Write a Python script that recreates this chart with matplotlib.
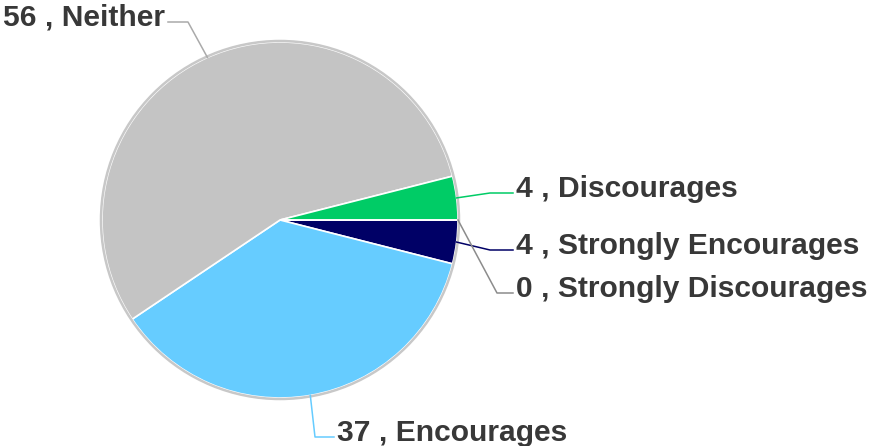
"""Pie chart of attitude responses with elbow leader labels."""

import numpy as np
import matplotlib

matplotlib.use("Agg")
import matplotlib.pyplot as plt
from matplotlib.patches import Circle

# data, clockwise from 3 o'clock
labels = ["Strongly Encourages", "Encourages", "Neither", "Discourages", "Strongly Discourages"]
counts = [4, 37, 56, 4, 0]
colors = ["#000066", "#66ccff", "#c4c4c4", "#00cc66", "#999999"]
line_colors = ["#000066", "#66ccff", "#aaaaaa", "#00cc66", "#8c8c8c"]

W, H = 875, 446
CX, CY, R = 280, 220, 178  # pie centre / radius in pixels (from top-left)

# leader layout: elbow and end of each leader line, pixels from top-left
leader = {
    "Strongly Encourages": ((490, 250), (513, 250), "left"),
    "Encourages": ((315, 437), (334, 437), "left"),
    "Neither": ((188, 22), (168, 22), "right"),
    "Discourages": ((490, 193), (513, 193), "left"),
    "Strongly Discourages": ((497, 293), (513, 293), "left"),
}


def px(x, y):
    return x, H - y


fig = plt.figure(figsize=(W / 100, H / 100), dpi=100)
ax = fig.add_axes([0, 0, 1, 1])
wedges, _ = ax.pie(
    counts, colors=colors, startangle=0, counterclock=False,
    radius=R, center=px(CX, CY),
    wedgeprops=dict(edgecolor="white", linewidth=1.2),
)
ax.add_patch(Circle(px(CX, CY), R + 1, fill=False, edgecolor="#c8c8c8", lw=1.8, zorder=3))

for wedge, label, count, lc in zip(wedges, labels, counts, line_colors):
    mid = np.deg2rad((wedge.theta1 + wedge.theta2) / 2)
    ex, ey = CX + R * np.cos(mid), CY - R * np.sin(mid)
    (bx, by), (tx, ty), side = leader[label]
    xs, ys = zip(*[px(ex, ey), px(bx, by), px(tx, ty)])
    ax.plot(xs, ys, color=lc, lw=1.1, zorder=4)
    off = 3 if side == "left" else -3
    ax.text(tx + off, H - ty - 4, f"{count} , {label}", ha=side, va="baseline",
            fontsize=21.6, fontweight="bold", color="#383838", family="Liberation Sans")

ax.set_xlim(0, W)
ax.set_ylim(0, H)
ax.set_aspect("equal")
ax.axis("off")
fig.savefig("out.png", dpi=100)
